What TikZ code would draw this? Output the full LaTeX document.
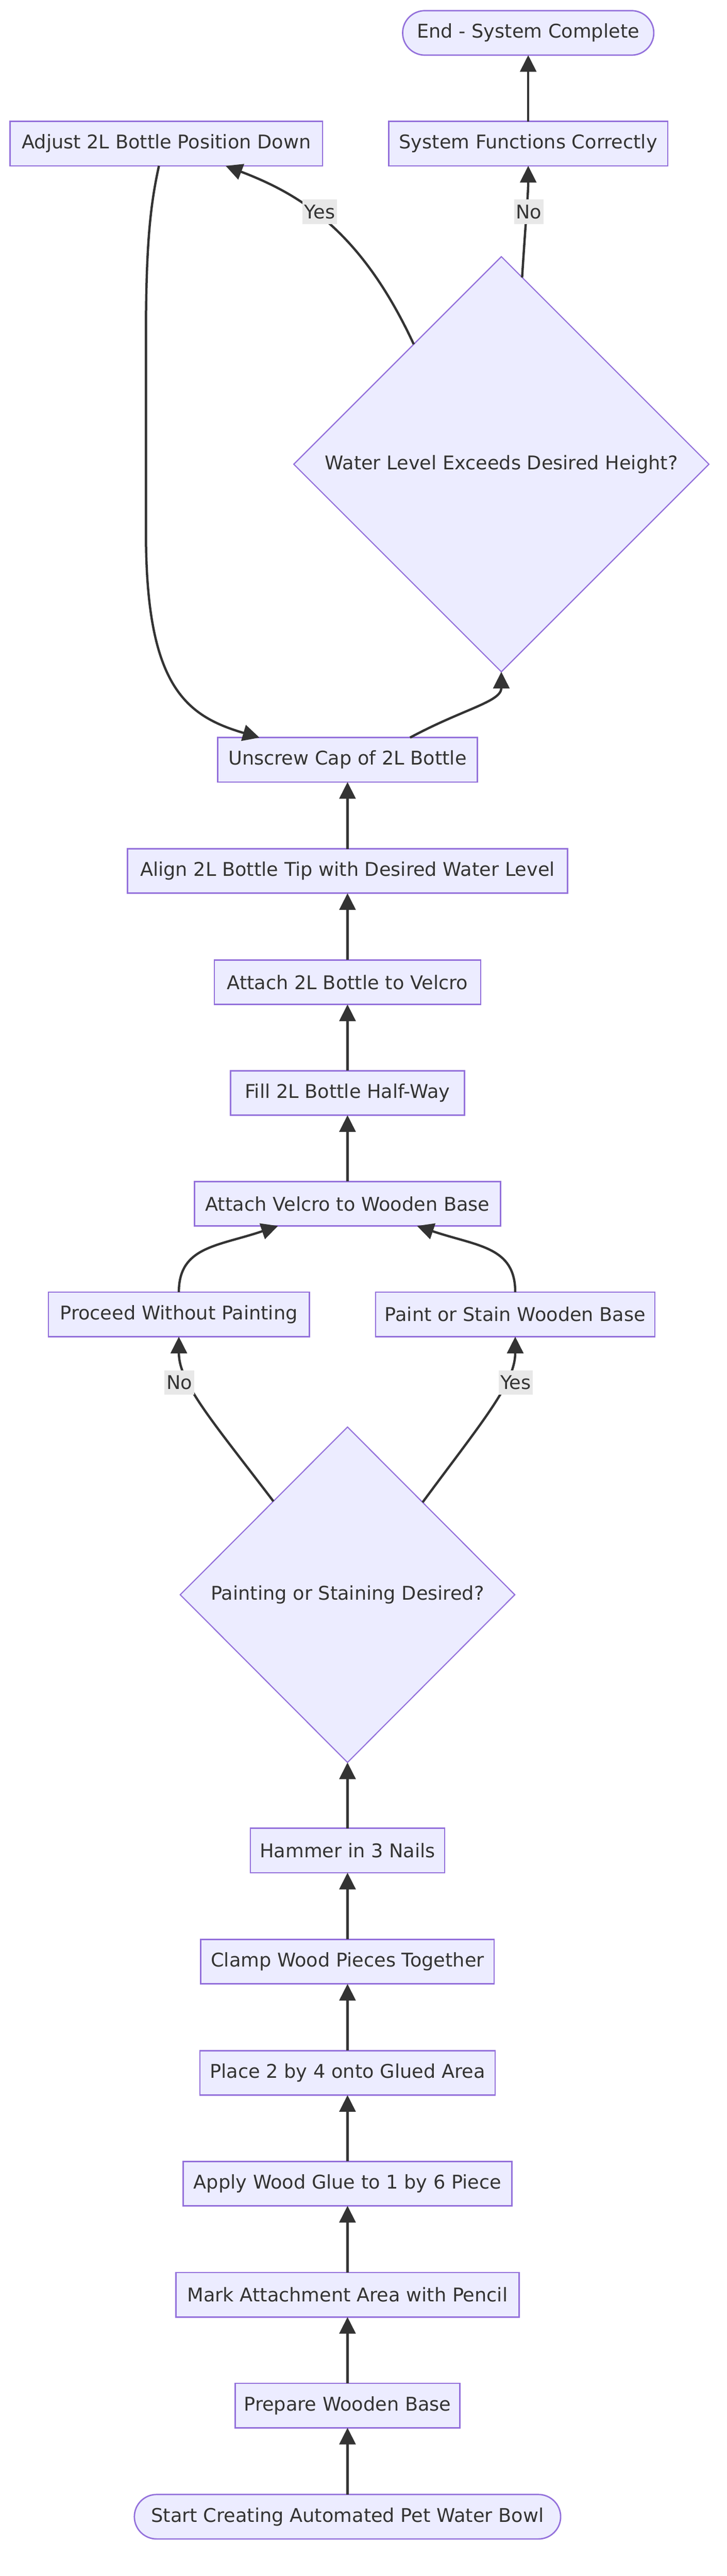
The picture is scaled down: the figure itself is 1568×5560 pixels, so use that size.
\documentclass[tikz,border=0pt]{standalone}
\usepackage{fontspec}
\setmainfont{DejaVu Sans}
\usetikzlibrary{shapes.geometric,arrows.meta,calc}
\definecolor{nodefill}{HTML}{ECECFF}
\definecolor{nodeborder}{HTML}{9370DB}
\definecolor{linecol}{HTML}{333333}
\definecolor{textcol}{HTML}{333333}
\definecolor{labelbg}{HTML}{E8E8E8}
\newcommand\myfont{\fontsize{10.2pt}{12pt}\selectfont}
\tikzset{
  box/.style={draw=nodeborder, fill=nodefill, line width=0.75pt, minimum height=24pt,
    inner sep=0pt, outer sep=0pt, text=textcol, font=\myfont},
  term/.style={box, rounded corners=12pt},
  decision/.style={diamond, draw=nodeborder, fill=nodefill, line width=0.6pt,
    inner sep=0pt, outer sep=0pt, text=textcol, font=\myfont},
  mw/.style={minimum width=#1*0.25pt},
  edge/.style={draw=linecol, line width=1.25pt, -{Triangle[length=9pt,width=8.75pt]}},
  elabel/.style={fill=labelbg, inner xsep=1pt, inner ysep=0pt, minimum height=13.25pt,
    text=textcol, font=\myfont}
}
\begin{document}
\begin{tikzpicture}[x=0.25pt, y=-0.25pt]
\path[fill=white] (0,0) rectangle (1568,5560);
\useasboundingbox (0,0) rectangle (1568,5560);

% nodes
\node[term, mw=542] (endn) at (1140,71) {End - System Complete};
\node[box, mw=674] (adjust) at (359,310) {Adjust 2L Bottle Position Down};
\node[box, mw=602] (sysok) at (1140,310) {System Functions Correctly};
\node[decision, minimum width=224pt, minimum height=224pt] (dec2) at (1082,1002) {Water Level Exceeds Desired Height?};
\node[box, mw=561] (unscrew) at (750,1640) {Unscrew Cap of 2L Bottle};
\node[box, mw=950] (align) at (750,1880) {Align 2L Bottle Tip with Desired Water Level};
\node[box, mw=575] (attach2l) at (750,2120) {Attach 2L Bottle to Velcro};
\node[box, mw=505] (fill) at (750,2359) {Fill 2L Bottle Half-Way};
\node[box, mw=660] (velcro) at (750,2598) {Attach Velcro to Wooden Base};
\node[box, mw=563] (proceed) at (386,2837) {Proceed Without Painting};
\node[box, mw=603] (paint) at (1112,2837) {Paint or Stain Wooden Base};
\node[decision, minimum width=180.5pt, minimum height=181pt] (dec1) at (750,3442) {Painting or Staining Desired?};
\node[box, mw=419] (hammer) at (750,3994) {Hammer in 3 Nails};
\node[box, mw=633] (clamp) at (750,4234) {Clamp Wood Pieces Together};
\node[box, mw=637] (place) at (750,4474) {Place 2 by 4 onto Glued Area};
\node[box, mw=710] (apply) at (750,4713) {Apply Wood Glue to 1 by 6 Piece};
\node[box, mw=740] (mark) at (750,4953) {Mark Attachment Area with Pencil};
\node[box, mw=485] (prepare) at (750,5192) {Prepare Wooden Base};
\node[term, mw=920] (start) at (750,5432) {Start Creating Automated Pet Water Bowl};

% straight edges
\draw[edge] (start) -- (prepare);
\draw[edge] (prepare) -- (mark);
\draw[edge] (mark) -- (apply);
\draw[edge] (apply) -- (place);
\draw[edge] (place) -- (clamp);
\draw[edge] (clamp) -- (hammer);
\draw[edge] (hammer) -- (dec1);
\draw[edge] (velcro) -- (fill);
\draw[edge] (fill) -- (attach2l);
\draw[edge] (attach2l) -- (align);
\draw[edge] (align) -- (unscrew);
\draw[edge] (sysok) -- (endn);

% curved edges
\draw[edge] ($(dec1.north)!0.443!(dec1.west)$) .. controls (459,3068) and (386,2985) .. (proceed.south);
\draw[edge] ($(dec1.north)!0.449!(dec1.east)$) .. controls (1041,3068) and (1112,2985) .. (paint.south);
\draw[edge] (proceed.north) .. controls (386,2690) and (470,2690) .. ($(velcro.south)+(-150,0)$);
\draw[edge] (paint.north) .. controls (1112,2690) and (1030,2690) .. ($(velcro.south)+(150,0)$);
\draw[edge] ($(unscrew.north)+(135,0)$) .. controls (1000,1530) and (1082,1515) .. (dec2.south);
\draw[edge] ($(adjust.south)+(-16,0)$) .. controls (325,440) and (316,520) .. (315,700)
  -- (315,1150) .. controls (315,1480) and (400,1545) .. ($(unscrew.north)+(-190,0)$);
\draw[edge] ($(dec2.north)!0.422!(dec2.west)$) .. controls (780,500) and (650,420) .. ($(adjust.south)+(128,0)$);
\draw[edge] ($(dec2.north)!0.1!(dec2.east)$) .. controls (1135,470) and (1140,420) .. (sysok.south);

% edge labels
\node[elabel] (lyes2) at (690,457) {Yes};
\node[elabel] (lno2) at (1141,457) {No};
\node[elabel] (lno1) at (387,2984) {No};
\node[elabel] (lyes1) at (1113,2984) {Yes};
\end{tikzpicture}
\end{document}
